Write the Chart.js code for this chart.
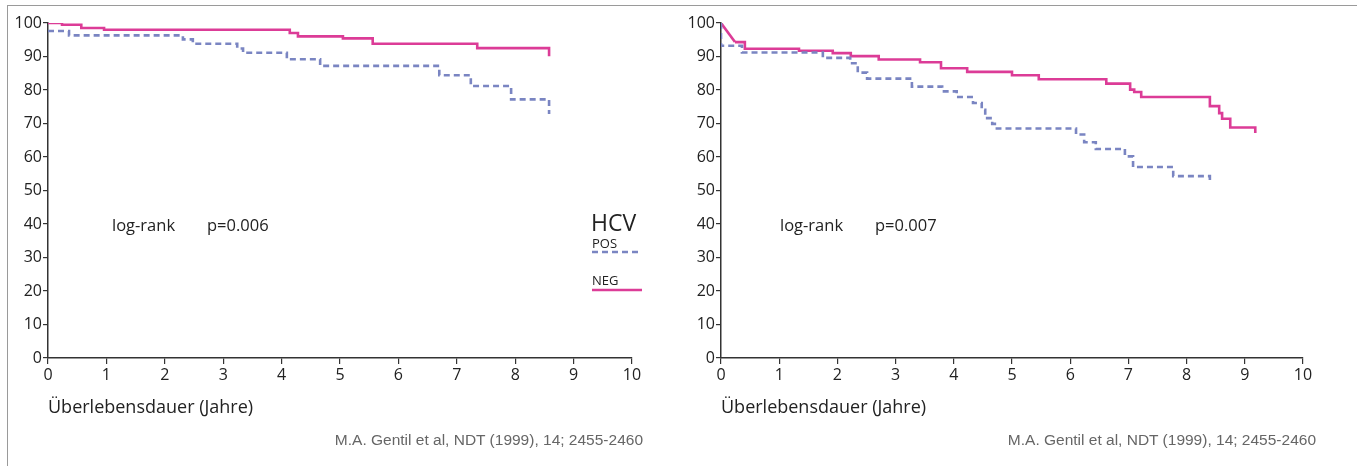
<!DOCTYPE html>
<html>
<head>
<meta charset="utf-8">
<script src="https://cdn.jsdelivr.net/npm/chart.js@4"></script>
<style>
  body { margin: 0; background: #fff; width: 1357px; height: 466px; overflow: hidden; position: relative; font-family: "Open Sans", sans-serif; }
  .frame { position: absolute; left: 7px; top: 5px; right: 0; bottom: 0; border-top: 1.5px solid #9a9a9a; border-left: 1.5px solid #9a9a9a; }
  canvas { position: absolute; top: 0; }
  .txt { position: absolute; color: #222; white-space: nowrap; }
  .cite { position: absolute; color: #666; font-family: "Liberation Sans", Arial, sans-serif; font-size: 15.5px; white-space: nowrap; }
</style>
</head>
<body>
<div class="frame"></div>
<canvas id="left" width="680" height="466" style="left:0"></canvas>
<canvas id="right" width="680" height="466" style="left:673px"></canvas>

<div class="txt" style="left:112px; top:213px; font-size:16.5px;">log-rank</div>
<div class="txt" style="left:207px; top:213px; font-size:16.5px;">p=0.006</div>
<div class="txt" style="left:780px; top:213px; font-size:16.5px;">log-rank</div>
<div class="txt" style="left:875px; top:213px; font-size:16.5px;">p=0.007</div>

<div class="txt" style="left:591px; top:206px; font-size:23px;">HCV</div>
<div class="txt" style="left:592px; top:234px; font-size:13px;">POS</div>
<div class="txt" style="left:592px; top:271px; font-size:13px;">NEG</div>
<svg style="position:absolute; left:590px; top:245px" width="56" height="50">
  <line x1="2" y1="7" x2="52" y2="7" stroke="#7a85c2" stroke-width="2.5" stroke-dasharray="6,4"/>
  <line x1="2" y1="45" x2="52" y2="45" stroke="#dc3c97" stroke-width="2.5"/>
</svg>

<div class="cite" style="right:714px; top:431px;">M.A. Gentil et al, NDT (1999), 14; 2455-2460</div>
<div class="cite" style="right:41px; top:431px;">M.A. Gentil et al, NDT (1999), 14; 2455-2460</div>

<script>
// survival curves, left panel
const leftNegTimes = [0, 0.24, 0.57, 0.96, 4.14, 4.28, 5.05, 5.56, 7.35, 8.58];
const leftNegSurv  = [100, 99.5, 98.5, 98.0, 97.0, 96.0, 95.4, 93.8, 92.5, 90.1];
const leftPosTimes = [0, 0.36, 2.31, 2.48, 3.24, 3.34, 4.09, 4.66, 6.70, 7.24, 7.93, 8.58];
const leftPosSurv  = [97.6, 96.3, 95.1, 93.8, 92.4, 91.1, 89.2, 87.2, 84.4, 81.2, 77.2, 72.8];

// survival curves, right panel
const rightNegStartTimes = [0, 0.24];
const rightNegStartSurv  = [100, 94.3];
const rightNegTimes = [0.24, 0.41, 1.34, 1.92, 2.23, 2.71, 3.42, 3.78, 4.23, 5.0, 5.46, 6.62, 7.03, 7.10, 7.22, 8.40, 8.56, 8.61, 8.75, 9.18];
const rightNegSurv  = [94.3, 92.3, 91.7, 91.0, 90.1, 89.1, 88.3, 86.5, 85.4, 84.4, 83.2, 81.9, 80.1, 79.4, 77.9, 75.2, 73.1, 71.4, 68.8, 67.2];
const rightPosTimes = [0, 0, 0.36, 1.75, 2.22, 2.35, 2.51, 3.28, 3.80, 4.05, 4.33, 4.48, 4.54, 4.66, 4.74, 6.10, 6.24, 6.44, 6.94, 7.08, 7.77, 8.40];
const rightPosSurv  = [100, 93.2, 91.2, 89.6, 88.0, 85.2, 83.4, 81.0, 79.6, 77.9, 76.1, 74.1, 71.6, 69.9, 68.5, 66.7, 64.4, 62.4, 60.2, 57.0, 54.3, 52.5];

const xTickValues = [0, 1, 2, 3, 4, 5, 6, 7, 8, 9, 10];
const yTickValues = [0, 10, 20, 30, 40, 50, 60, 70, 80, 90, 100];

const PINK = "#dc3c97";
const BLUE = "#7a85c2";

const pts = (xs, ys) => xs.map((x, i) => ({ x: x, y: ys[i] }));

const negLine = (data, stepped) => ({
  data: data, stepped: stepped, borderColor: PINK, borderWidth: 2.6,
  pointRadius: 0, fill: false, borderCapStyle: "butt"
});
const posLine = (data) => ({
  data: data, stepped: true, borderColor: BLUE, borderWidth: 2.6,
  borderDash: [6, 4], pointRadius: 0, fill: false
});

const tickFont = { family: "Open Sans", size: 16 };

function makeOptions(padRight) {
  return {
    responsive: false,
    animation: false,
    layout: { padding: { left: 8, right: padRight, top: 23, bottom: 44 } },
    plugins: { legend: { display: false }, tooltip: { enabled: false } },
    scales: {
      x: {
        type: "linear", min: 0, max: 10,
        afterBuildTicks: s => { s.ticks = xTickValues.map(v => ({ value: v })); },
        afterFit: s => { s.height = 64; },
        ticks: { color: "#222", font: tickFont, padding: 2, maxRotation: 0 },
        grid: { drawOnChartArea: false, tickLength: 6, color: "#333", lineWidth: 1.2 },
        border: { color: "#333", width: 1.5 },
        title: {
          display: true, text: "Überlebensdauer (Jahre)", align: "start",
          color: "#222", font: { family: "Open Sans", size: 18 }, padding: { top: 4, bottom: 3 }
        }
      },
      y: {
        min: 0, max: 100,
        afterBuildTicks: s => { s.ticks = yTickValues.map(v => ({ value: v })); },
        afterFit: s => { s.width = 40; },
        ticks: { color: "#222", font: tickFont, padding: 1 },
        grid: { drawOnChartArea: false, tickLength: 5, color: "#333", lineWidth: 1.2 },
        border: { color: "#333", width: 1.5 }
      }
    }
  };
}

new Chart(document.getElementById("left"), {
  type: "line",
  data: {
    datasets: [
      posLine(pts(leftPosTimes, leftPosSurv)),
      negLine(pts(leftNegTimes, leftNegSurv), true)
    ]
  },
  options: makeOptions(48)
});

new Chart(document.getElementById("right"), {
  type: "line",
  data: {
    datasets: [
      posLine(pts(rightPosTimes, rightPosSurv)),
      negLine(pts(rightNegStartTimes, rightNegStartSurv), false),
      negLine(pts(rightNegTimes, rightNegSurv), true)
    ]
  },
  options: makeOptions(50)
});
</script>
</body>
</html>
